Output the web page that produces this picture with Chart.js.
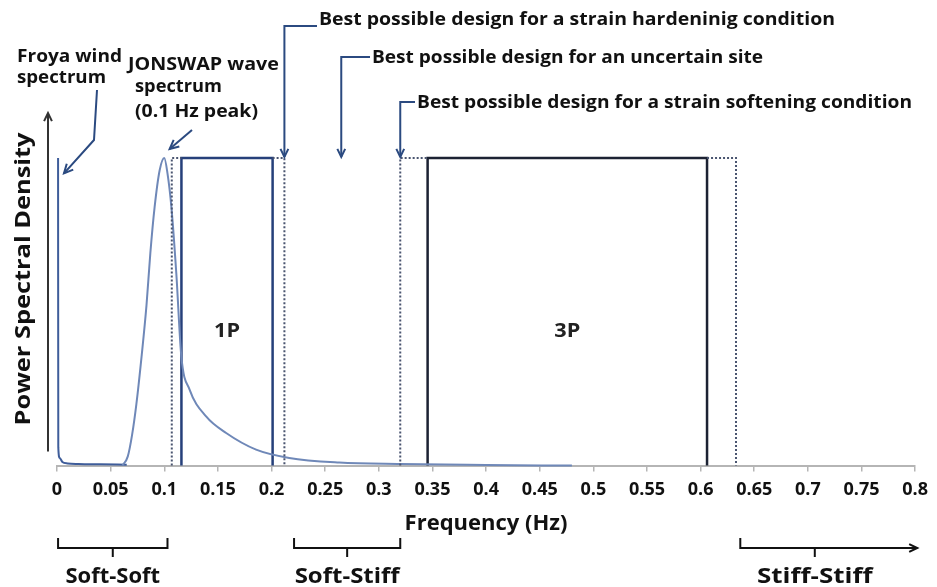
<!DOCTYPE html>
<html>
<head>
<meta charset="utf-8">
<script src="https://cdn.jsdelivr.net/npm/chart.js@4.4.1/dist/chart.umd.min.js"></script>
<style>
    html, body { margin: 0; padding: 0; background: #fff; }
    #psd-chart { display: block; }
</style>
</head>
<body>
<canvas id="psd-chart" width="937" height="587"></canvas>
<script>
// x axis ticks (Hz)
const tickValues = [0, 0.05, 0.1, 0.15, 0.2, 0.25, 0.3, 0.35, 0.4, 0.45, 0.5, 0.55, 0.6, 0.65, 0.7, 0.75, 0.8];
const tickLabels = ['0', '0.05', '0.1', '0.15', '0.2', '0.25', '0.3', '0.35', '0.4', '0.45', '0.5', '0.55', '0.6', '0.65', '0.7', '0.75', '0.8'];

// Froya wind spectrum (normalised PSD)
const froyaFreq = [0.001, 0.0012, 0.0025, 0.005, 0.01, 0.02, 0.04, 0.065];
const froyaPsd = [1.0, 0.06, 0.025, 0.012, 0.007, 0.005, 0.004, 0.003];

// JONSWAP wave spectrum, 0.1 Hz peak (normalised PSD)
const jonswapFreq = [0.061, 0.066, 0.07, 0.074, 0.079, 0.0834, 0.087, 0.091, 0.0957, 0.1, 0.103, 0.1066, 0.1112, 0.1159, 0.1236, 0.139, 0.1577, 0.1856, 0.2165, 0.263, 0.32, 0.4, 0.48];
const jonswapPsd = [0, 0.03, 0.1, 0.2, 0.36, 0.52, 0.69, 0.84, 0.96, 1.0, 0.95, 0.842, 0.626, 0.355, 0.247, 0.16, 0.106, 0.052, 0.025, 0.01, 0.005, 0.002, 0];

// rotor frequency bands [from, to] in Hz
const band1P = [0.116, 0.201];
const band1PMargin = [0.107, 0.212];
const band3P = [0.3455, 0.606];
const band3PMargin = [0.32, 0.633];
const bandLabels = ['1P', '3P'];

// design pointers (Hz)
const designNotes = [
    { text: 'Best possible design for a strain hardeninig condition', freq: 0.212 },
    { text: 'Best possible design for an uncertain site', freq: 0.265 },
    { text: 'Best possible design for a strain softening condition', freq: 0.32 }
];

// stiffness ranges along the frequency axis (Hz)
const regimes = [
    { label: 'Soft-Soft', from: 0.001, to: 0.103 },
    { label: 'Soft-Stiff', from: 0.221, to: 0.32 },
    { label: 'Stiff-Stiff', from: 0.637, to: 0.802 }
];

const FONT = '"Open Sans", "Noto Sans", sans-serif';

function toPoints(xs, ys) {
    return xs.map((x, i) => ({ x, y: ys[i] }));
}

function boxPoints(band) {
    return [{ x: band[0], y: 0 }, { x: band[0], y: 1 }, { x: band[1], y: 1 }, { x: band[1], y: 0 }];
}

function marginPoints(band, margin) {
    // dotted outline left and right of the solid band
    return [
        { x: margin[0], y: 0 }, { x: margin[0], y: 1 }, { x: band[0], y: 1 }, { x: NaN, y: NaN },
        { x: band[1], y: 1 }, { x: margin[1], y: 1 }, { x: margin[1], y: 0 }
    ];
}

// text squeezed/stretched to a given width
function fitText(ctx, text, x, y, width, align) {
    const w = ctx.measureText(text).width;
    let k = width / w;
    k = Math.max(0.8, Math.min(1.25, k));
    ctx.save();
    ctx.translate(x, y);
    ctx.scale(k, 1);
    ctx.textAlign = align || 'left';
    ctx.fillText(text, 0, 0);
    ctx.restore();
}

function arrowHead(ctx, x, y, angle, size) {
    ctx.beginPath();
    ctx.moveTo(x - size * Math.cos(angle - 0.45), y - size * Math.sin(angle - 0.45));
    ctx.lineTo(x, y);
    ctx.lineTo(x - size * Math.cos(angle + 0.45), y - size * Math.sin(angle + 0.45));
    ctx.stroke();
}

function polyArrow(ctx, pts, size) {
    ctx.beginPath();
    ctx.moveTo(pts[0][0], pts[0][1]);
    for (let i = 1; i < pts.length; i++) ctx.lineTo(pts[i][0], pts[i][1]);
    ctx.stroke();
    const a = pts[pts.length - 2], b = pts[pts.length - 1];
    arrowHead(ctx, b[0], b[1], Math.atan2(b[1] - a[1], b[0] - a[0]), size);
}

const annotationsPlugin = {
    id: 'annotations',
    afterDraw(chart) {
        const ctx = chart.ctx;
        const xs = chart.scales.x;
        const ys = chart.scales.y;
        const top = ys.getPixelForValue(1);
        const base = ys.getPixelForValue(0);
        ctx.save();
        ctx.fillStyle = '#111';
        ctx.textBaseline = 'middle';

        // y axis arrow + title
        ctx.strokeStyle = '#333';
        ctx.lineWidth = 2;
        polyArrow(ctx, [[48, base - 14], [48, 113]], 9);
        ctx.save();
        ctx.translate(24, 279);
        ctx.rotate(-Math.PI / 2);
        ctx.font = 'bold 22px ' + FONT;
        fitText(ctx, 'Power Spectral Density', 0, 0, 293, 'center');
        ctx.restore();

        // 1P / 3P labels
        ctx.font = 'bold 19px ' + FONT;
        ctx.fillStyle = '#222';
        [band1P, band3P].forEach((b, i) => {
            const cx = xs.getPixelForValue((b[0] + b[1]) / 2);
            fitText(ctx, bandLabels[i], cx, ys.getPixelForValue(0.435), bandLabels[i].length * 13, 'center');
        });

        // spectrum labels
        ctx.fillStyle = '#111';
        ctx.font = 'bold 17px ' + FONT;
        fitText(ctx, 'Froya wind', 17, 57, 105);
        fitText(ctx, 'spectrum', 17, 78, 89);
        ctx.font = 'bold 18px ' + FONT;
        fitText(ctx, 'JONSWAP wave', 128, 65, 151);
        fitText(ctx, 'spectrum', 135, 87, 87);
        fitText(ctx, '(0.1 Hz peak)', 135, 112, 123);

        ctx.strokeStyle = '#2b4a80';
        ctx.lineWidth = 2;
        polyArrow(ctx, [[97, 90], [94, 140], [xs.getPixelForValue(0.0065), ys.getPixelForValue(0.95)]], 10);
        polyArrow(ctx, [[192, 130], [xs.getPixelForValue(0.105), top - 9]], 10);

        // design pointers
        const noteLayout = [
            { textX: 319, textY: 20, lineY: 26, width: 516 },
            { textX: 372, textY: 58, lineY: 57, width: 391 },
            { textX: 417, textY: 103, lineY: 102, width: 495 }
        ];
        ctx.font = 'bold 17px ' + FONT;
        designNotes.forEach((n, i) => {
            const l = noteLayout[i];
            const px = xs.getPixelForValue(n.freq);
            fitText(ctx, n.text, l.textX, l.textY, l.width);
            polyArrow(ctx, [[l.textX - 2, l.lineY], [px, l.lineY], [px, top - 1]], 9);
        });

        // stiffness braces under the axis
        ctx.strokeStyle = '#111';
        ctx.lineWidth = 2;
        ctx.font = 'bold 21px ' + FONT;
        regimes.forEach((r, i) => {
            const x0 = xs.getPixelForValue(r.from);
            const x1 = xs.getPixelForValue(r.to);
            const y = 548;
            const mid = (x0 + x1) / 2;
            const last = i === regimes.length - 1;
            ctx.beginPath();
            ctx.moveTo(x0, y - 10);
            ctx.lineTo(x0, y);
            ctx.lineTo(x1, y);
            if (!last) ctx.lineTo(x1, y - 10);
            ctx.moveTo(mid - (last ? 14 : 0), y);
            ctx.lineTo(mid - (last ? 14 : 0), y + 9);
            ctx.stroke();
            if (last) arrowHead(ctx, x1, y, 0, 9);
            const tx = last ? mid - 14 : mid;
            fitText(ctx, r.label, tx, 577, r.label.length * 10.5, 'center');
        });
        ctx.restore();
    }
};

const lineBase = { showLine: true, pointRadius: 0, fill: false, clip: false, spanGaps: false };

new Chart(document.getElementById('psd-chart'), {
    type: 'scatter',
    data: {
        datasets: [
            Object.assign({ data: marginPoints(band1P, band1PMargin), borderColor: '#4a5570', borderWidth: 2, borderDash: [2, 2] }, lineBase),
            Object.assign({ data: marginPoints(band3P, band3PMargin), borderColor: '#4a5570', borderWidth: 2, borderDash: [2, 2] }, lineBase),
            Object.assign({ data: toPoints(jonswapFreq, jonswapPsd), borderColor: '#6f88b8', borderWidth: 2, cubicInterpolationMode: 'monotone' }, lineBase),
            Object.assign({ data: toPoints(froyaFreq, froyaPsd), borderColor: '#3f5d9a', borderWidth: 2, cubicInterpolationMode: 'monotone' }, lineBase),
            Object.assign({ data: boxPoints(band1P), borderColor: '#26407a', borderWidth: 2.5 }, lineBase),
            Object.assign({ data: boxPoints(band3P), borderColor: '#1c2233', borderWidth: 2.5 }, lineBase)
        ]
    },
    options: {
        responsive: false,
        animation: false,
        events: [],
        layout: { autoPadding: false, padding: { top: 158, left: 57, right: 18, bottom: 50 } },
        plugins: { legend: { display: false }, tooltip: { enabled: false } },
        scales: {
            x: {
                type: 'linear',
                min: 0,
                max: 0.8,
                afterBuildTicks: scale => { scale.ticks = tickValues.map(v => ({ value: v })); },
                grid: { drawOnChartArea: false, tickLength: 6, color: '#b5b5b5', lineWidth: 1.5 },
                border: { color: '#b5b5b5', width: 2 },
                ticks: {
                    padding: 9,
                    color: '#111',
                    autoSkip: false,
                    maxRotation: 0,
                    font: { family: FONT, size: 18, weight: 'bold', lineHeight: 1 },
                    callback: (v, i) => tickLabels[i]
                },
                title: {
                    display: true,
                    text: 'Frequency (Hz)',
                    color: '#111',
                    padding: { top: 3, bottom: 0 },
                    font: { family: FONT, size: 22, weight: 'bold' }
                }
            },
            y: { display: false, min: 0, max: 1 }
        }
    },
    plugins: [annotationsPlugin]
});
</script>
</body>
</html>
